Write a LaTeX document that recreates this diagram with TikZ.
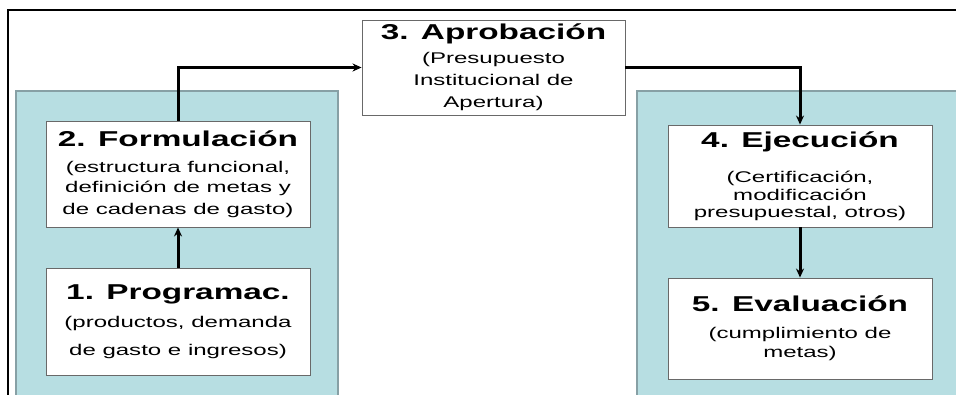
\documentclass[tikz,border=0pt]{standalone}
\usepackage{fontspec}
\setmainfont{Liberation Sans}
\usetikzlibrary{arrows.meta,positioning}
\tikzset{>={Stealth[length=9pt,width=8pt]}}
\definecolor{panelteal}{RGB}{183,222,226}
\definecolor{panelline}{RGB}{135,160,165}
\definecolor{boxline}{RGB}{105,105,105}
\newcommand{\wide}[1]{\scalebox{1.55}[1]{#1}}
\newcommand{\ttl}[1]{\wide{\fontsize{21.5}{24}\selectfont\bfseries #1}}
\tikzset{
  stage/.style={draw=boxline, fill=white, line width=0.9pt, minimum width=264pt, inner sep=0pt, align=center},
  flow/.style={->, line width=3pt},
  panel/.style={fill=panelteal, draw=panelline, line width=1.4pt}
}

\begin{document}
\begin{tikzpicture}[x=1pt,y=-1pt]
\clip (0,0) rectangle (956,394);
\fill[white] (0,0) rectangle (956,394);
% frame and panels
\draw[line width=1.6pt] (8,400) -- (8,10) -- (960,10);
\draw[panel] (16,91) rectangle (338,404);
\draw[panel] (637,91) rectangle (966,404);
% stages
\node[stage, minimum height=106pt, font=\fontsize{15.5}{20}\selectfont] (form) at (178,174)
  {\ttl{2. Formulación}\\[6pt] \wide{(estructura funcional,}\\ \wide{definición de metas y}\\[2pt] \wide{de cadenas de gasto)}};
\node[stage, minimum height=107pt, font=\fontsize{15.5}{28}\selectfont] (prog) at (178,321.5)
  {\ttl{1. Programac.}\\ \wide{(productos, demanda}\\ \wide{de gasto e ingresos)}};
\node[stage, minimum width=263pt, minimum height=95pt, font=\fontsize{15.5}{22}\selectfont] (apro) at (493.5,67.5)
  {\ttl{3. Aprobación}\\[2pt] \wide{(Presupuesto}\\ \wide{Institucional de}\\ \wide{Apertura)}};
\node[stage, minimum height=102pt, font=\fontsize{15.5}{17.5}\selectfont] (ejec) at (800,176)
  {\ttl{4. Ejecución}\\[18pt] \wide{(Certificación,}\\ \wide{modificación}\\ \wide{presupuestal, otros)}};
\node[stage, minimum height=101pt, font=\fontsize{15.5}{19}\selectfont] (eval) at (800,328.5)
  {\ttl{5. Evaluación}\\[8pt] \wide{(cumplimiento de}\\ \wide{metas)}};
% connectors
\draw[flow] (prog.north) -- (form.south);
\draw[flow] (form.north) |- (apro.west);
\draw[flow] (apro.east) -| (ejec.north);
\draw[flow] (ejec.south) -- (eval.north);
\end{tikzpicture}
\end{document}
